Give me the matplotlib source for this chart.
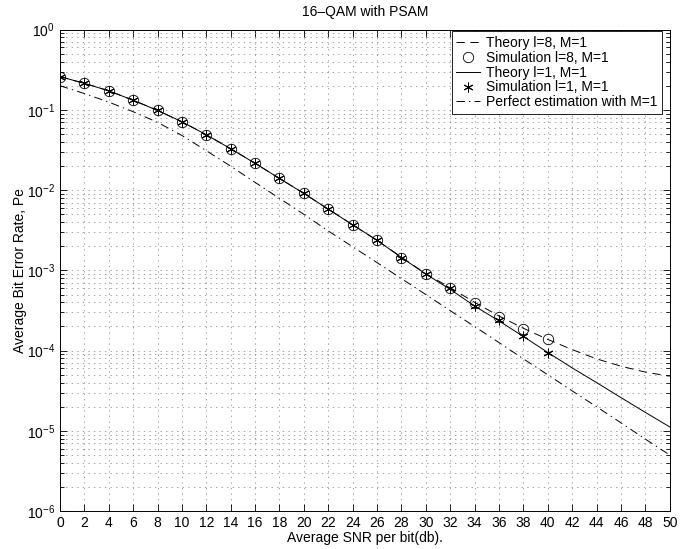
import matplotlib
matplotlib.use('Agg')
import matplotlib.pyplot as plt
from matplotlib.ticker import LogLocator, MultipleLocator, NullFormatter, FixedLocator

# BER curves for 16-QAM with pilot symbol assisted modulation
snr_theory = list(range(0, 52, 2))
pe_theory_l8 = [0.26, 0.214, 0.173, 0.132, 0.0986, 0.0711, 0.049, 0.0328, 0.0216,
                0.014, 0.0091, 0.0058, 0.0037, 0.00237, 0.00146, 9.1e-4, 6.1e-4,
                4.0e-4, 2.7e-4, 1.9e-4, 1.38e-4, 1.03e-4, 7.9e-5, 6.4e-5, 5.4e-5, 4.8e-5]
pe_theory_l1 = [0.26, 0.214, 0.173, 0.132, 0.0986, 0.0711, 0.049, 0.0328, 0.0216,
                0.014, 0.0091, 0.0058, 0.0037, 0.00237, 0.00145, 9.0e-4, 5.8e-4,
                3.6e-4, 2.35e-4, 1.5e-4, 9.5e-5, 6.1e-5, 4.0e-5, 2.6e-5, 1.7e-5, 1.12e-5]
pe_perfect = [0.2, 0.16, 0.125, 0.095, 0.07, 0.048, 0.031, 0.0199, 0.0125,
              0.0079, 0.005, 0.0031, 0.00197, 0.00125, 7.9e-4, 5.0e-4, 3.15e-4,
              2.0e-4, 1.26e-4, 7.9e-5, 5.0e-5, 3.15e-5, 2.0e-5, 1.26e-5, 7.9e-6, 5.0e-6]

snr_sim = list(range(0, 42, 2))
pe_sim_l8 = [0.26, 0.214, 0.173, 0.132, 0.0986, 0.0711, 0.049, 0.0328, 0.0216,
             0.014, 0.0091, 0.00577, 0.00367, 0.00237, 0.00144, 9.0e-4, 6.1e-4,
             3.9e-4, 2.6e-4, 1.86e-4, 1.40e-4]
pe_sim_l1 = [0.26, 0.214, 0.173, 0.132, 0.0986, 0.0711, 0.049, 0.0328, 0.0216,
             0.014, 0.0091, 0.00577, 0.00367, 0.00237, 0.00144, 9.0e-4, 6.0e-4,
             3.55e-4, 2.4e-4, 1.52e-4, 9.3e-5]

decades = [1e-6, 1e-5, 1e-4, 1e-3, 1e-2, 1e-1, 1e0]

plt.rcParams['font.family'] = ['Liberation Sans', 'DejaVu Sans']
plt.rcParams['font.size'] = 10
plt.rcParams['lines.scale_dashes'] = False

fig = plt.figure(figsize=(6.89, 5.49), dpi=100)
ax = fig.add_axes([0.087, 0.069, 0.885, 0.877])

ax.semilogy(snr_theory, pe_theory_l8, 'k', ls=(0, (6, 4)), lw=0.7, label='Theory l=8, M=1')
ax.semilogy(snr_sim, pe_sim_l8, 'ko', mfc='none', ms=7.5, mew=0.6, ls='none',
            label='Simulation l=8, M=1')
ax.semilogy(snr_theory, pe_theory_l1, 'k-', lw=0.7, label='Theory l=1, M=1')
ax.semilogy(snr_sim, pe_sim_l1, 'k', marker=(6, 2, 0), ms=7, mew=0.7, ls='none',
            label='Simulation l=1, M=1')
ax.semilogy(snr_theory, pe_perfect, 'k', ls=(0, (6, 3, 1, 3)), lw=0.7,
            label='Perfect estimation with M=1')

ax.set_xlim(0, 50)
ax.set_ylim(1e-6, 1)
ax.xaxis.set_major_locator(MultipleLocator(2))
ax.yaxis.set_major_locator(FixedLocator(decades))
ax.yaxis.set_minor_locator(LogLocator(base=10, subs=range(2, 10), numticks=20))
ax.yaxis.set_minor_formatter(NullFormatter())
ax.tick_params(which='both', direction='in', top=True, right=True, width=0.6)
ax.tick_params(which='major', length=5)
ax.tick_params(which='minor', length=3)
for s in ax.spines.values():
    s.set_linewidth(0.7)

grid_kw = dict(color='0.5', ls=(0, (1, 3)), lw=0.5)
ax.grid(True, which='major', axis='both', **grid_kw)
ax.grid(True, which='minor', axis='y', **grid_kw)

ax.set_title('16\u2013QAM with PSAM', fontsize=10, pad=10)
ax.set_xlabel('Average SNR per bit(db).', labelpad=1)
ax.set_ylabel('Average Bit Error Rate, Pe', labelpad=0)

leg = ax.legend(loc='upper right', bbox_to_anchor=(0.987, 0.997), fancybox=False,
                framealpha=1, edgecolor='k', handlelength=1.7, borderpad=0.35,
                labelspacing=0.06, handletextpad=0.4, borderaxespad=0)
leg.get_frame().set_linewidth(0.6)

fig.savefig('out.png', dpi=100)
